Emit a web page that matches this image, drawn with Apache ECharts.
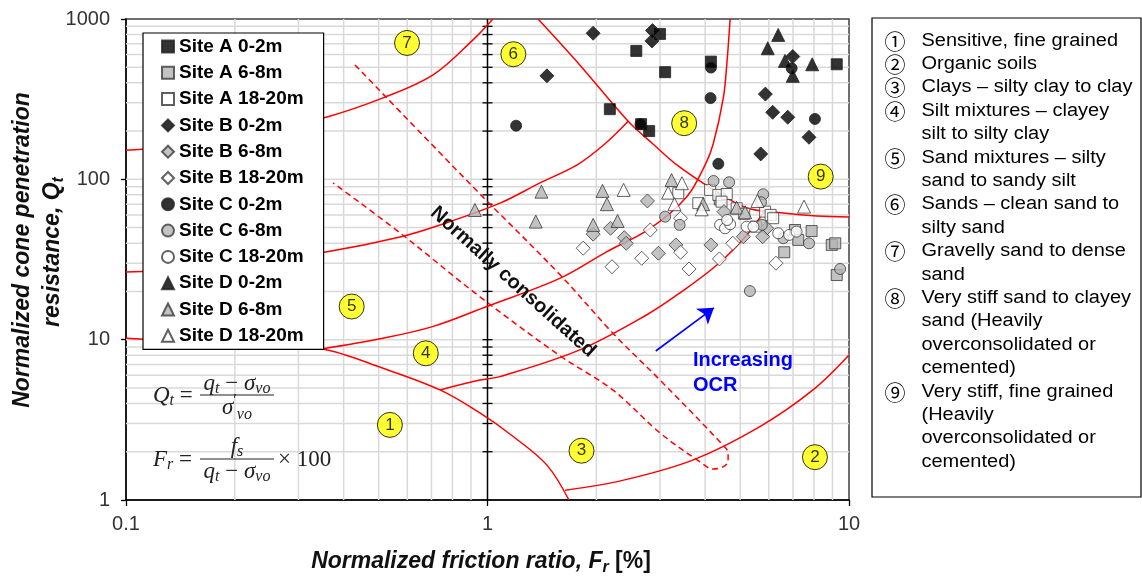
<!DOCTYPE html>
<html><head><meta charset="utf-8">
<script src="https://cdn.jsdelivr.net/npm/echarts@6/dist/echarts.min.js"></script>
<style>html,body{margin:0;padding:0;background:#fff}#c{width:1142px;height:579px}</style>
</head><body><div id="c"></div>
<script>
// ---------------- data (Fr [%], Qt) ----------------
const siteA_0_2  = [[2.58,632],[3.0,807],[3.10,466],[2.18,274],[2.66,221],[2.80,200],[4.15,542],[9.25,522]];
const siteA_6_8  = [[4.39,75],[7.09,48.3],[7.24,41.9],[7.88,47.6],[6.62,35.1],[8.96,39],[9.16,39.9],[9.25,25.3]];
const siteA_18_20= [[3.37,81.9],[3.83,71],[4.13,85.9],[4.35,80],[4.59,81],[4.44,72.6],[4.89,66],[5.13,61],[5.53,50.7],[5.86,62.9],[6.07,60],[6.17,57.2]];
const siteB_0_2  = [[1.96,815],[2.86,847],[2.85,730],[1.46,442],[6.99,583],[5.87,340],[6.15,262],[6.77,244],[7.75,183],[5.70,144]];
const siteB_6_8  = [[1.96,45.5],[2.19,49.5],[2.39,43.3],[2.42,39.9],[2.77,73.3],[2.97,34.6],[3.32,39],[4.15,39],[5.10,43.9],[4.51,62.9],[5.92,49.5],[5.77,43.9]];
const siteB_18_20= [[1.84,37.2],[2.21,28.5],[2.67,32.2],[2.82,48.3],[3.42,57.2],[3.42,35.1],[3.61,27.6],[4.38,31.9],[4.77,39.9],[6.28,30]];
const siteC_0_2  = [[1.20,216],[2.65,221],[4.15,498],[4.14,321],[8.05,238],[6.94,493],[4.35,125]];
const siteC_6_8  = [[3.10,58.5],[3.40,52],[4.22,97.7],[4.66,95.9],[5.79,80.7],[5.71,72],[5.74,52],[6.58,42.9],[7.75,39.9],[5.32,20.1],[9.45,27.6]];
const siteC_18_20= [[4.40,52],[4.54,49.5],[4.69,52.5],[4.60,55.8],[5.21,50.7],[5.44,50.7],[6.37,46.1],[6.83,45],[7.16,47.2]];
const siteD_0_2  = [[6.37,796],[5.96,657],[6.65,548],[7.91,522],[6.99,442]];
const siteD_6_8  = [[0.923,64.4],[1.41,83.8],[1.36,54.5],[2.08,84.7],[2.14,70],[2.29,55],[1.96,52],[3.23,99],[3.95,70],[4.89,66.6],[5.16,62.3]];
const siteD_18_20= [[2.38,85.9],[3.45,94.6],[3.16,82.6],[3.29,70],[3.91,65],[5.58,73.3],[7.51,67.6]];

// zone boundaries (Robertson 1990 chart)
const bound76   = [[0.1,152],[0.194,174],[0.36,245],[0.514,322],[0.707,448],[0.912,741],[1.035,1000]];
const bound65   = [[0.1,26.4],[0.194,28.8],[0.36,35.3],[0.573,43.7],[0.739,51.9],[1.083,71],[1.397,95],[1.77,123],[2.11,166],[2.45,230]];
const bound8    = [[1.38,1000],[1.80,517],[2.45,230],[2.87,166],[3.34,123],[4.31,83.5],[5.22,66.3],[6.57,61.7],[8.15,59.1],[10,58.2]];
const bound5489 = [[0.348,8.75],[0.514,10.2],[0.708,12.1],[0.995,16.1],[1.59,24.2],[2.14,35.4],[2.82,49.5],[3.56,78],[4.0,123],[4.21,166],[4.49,321],[4.59,517],[4.69,1000]];
const bound1    = [[0.1,10.2],[0.194,9.4],[0.348,8.75],[0.514,6.63],[0.739,4.86],[0.953,3.49],[1.18,2.48],[1.46,1.65],[1.68,1.0]];
const bound43   = [[0.739,4.86],[0.953,5.6],[1.083,5.88],[1.80,8.63],[2.76,14.3],[3.41,19.6],[4.31,29.2],[5.22,45],[5.86,64.4]];
const bound32   = [[1.64,1.15],[2.38,1.33],[3.71,1.78],[5.67,2.87],[7.95,4.86],[10,8.03]];
const ncBand    = [[0.430,517],[0.912,89.7],[1.59,25.3],[2.22,11.0],[3.0,5.6],[4.48,2.20],[4.63,1.96],[4.63,1.75],[4.48,1.61],[4.21,1.56],[3.87,1.73],[3.0,2.62],[2.22,4.86],[1.59,7.91],[0.953,18.5],[0.573,46.3],[0.374,95]];

// zone label circles
const zoneNames = ['7','6','8','9','5','4','1','3','2'];
const zoneFr    = [0.599,1.179,3.50,8.35,0.421,0.675,0.537,1.82,8.05];
const zoneQt    = [709,603,224,104,16.1,8.22,2.94,2.03,1.85];

// grid & tick values
const gridFr = [0.2,0.3,0.4,0.5,0.6,0.7,0.8,0.9,2,3,4,5,6,7,8,9];
const gridQt = [2,3,4,5,6,7,8,9,10,20,30,40,50,60,70,80,90,100,200,300,400,500,600,700,800,900];
const centerTicks = [2,3,4,5,6,7,8,9,10,20,30,40,50,60,70,80,90,100,200,300,400,500,600,700,800,900];
const xTicks = [0.1,1,10];
const yTicks = [1,10,100,1000];

// annotations
const arrowOCR = [[2.92,8.5],[4.23,15.8]];
const ncTextPos = [1.176,22.9];
const ocrTextPos = [3.70,6.24];

const zoneDesc = [
  ['Sensitive, fine grained'],
  ['Organic soils'],
  ['Clays \u2013 silty clay to clay'],
  ['Silt mixtures \u2013 clayey','silt to silty clay'],
  ['Sand mixtures \u2013 silty','sand to sandy silt'],
  ['Sands \u2013 clean sand to','silty sand'],
  ['Gravelly sand to dense','sand'],
  ['Very stiff sand to clayey','sand (Heavily','overconsolidated or','cemented)'],
  ['Very stiff, fine grained','(Heavily','overconsolidated or','cemented)']
];
const circled = ['\u2460','\u2461','\u2462','\u2463','\u2464','\u2465','\u2466','\u2467','\u2468'];

// ---------------- chart ----------------
const GRAY = '#b4b4b4', EDGE = '#3a3a3a';
const markerDefs = [
  ['Site A 0-2m', siteA_0_2, 'rect', '#000', 11],
  ['Site A 6-8m', siteA_6_8, 'rect', GRAY, 11],
  ['Site A 18-20m', siteA_18_20, 'rect', '#fff', 11],
  ['Site B 0-2m', siteB_0_2, 'diamond', '#000', 14],
  ['Site B 6-8m', siteB_6_8, 'diamond', GRAY, 14],
  ['Site B 18-20m', siteB_18_20, 'diamond', '#fff', 14],
  ['Site C 0-2m', siteC_0_2, 'circle', '#000', 11],
  ['Site C 6-8m', siteC_6_8, 'circle', GRAY, 11],
  ['Site C 18-20m', siteC_18_20, 'circle', '#fff', 11],
  ['Site D 0-2m', siteD_0_2, 'triangle', '#000', 13],
  ['Site D 6-8m', siteD_6_8, 'triangle', GRAY, 13],
  ['Site D 18-20m', siteD_18_20, 'triangle', '#fff', 13]
];

const chart = echarts.init(document.getElementById('c'), null, {renderer:'canvas'});

function redLine(data, dashed){
  return {type:'line', data:data, smooth:0.35, symbol:'none', silent:true, z:3, clip:true,
    lineStyle:{color:'#ff0000', width:1.5, type: dashed ? [6,4] : 'solid'}};
}

const series = [];
// grid lines
series.push({type:'custom', silent:true, z:1, data:gridFr.map(v=>[v,1]),
  renderItem:(params, api)=>{ const cs=params.coordSys; const p=api.coord([api.value(0),api.value(1)]);
    return {type:'line', shape:{x1:p[0],y1:cs.y,x2:p[0],y2:cs.y+cs.height}, style:{stroke:'#d9d9d9',lineWidth:1.5}}; }});
series.push({type:'custom', silent:true, z:1, data:gridQt.map(v=>[1,v]),
  renderItem:(params, api)=>{ const cs=params.coordSys; const p=api.coord([api.value(0),api.value(1)]);
    return {type:'line', shape:{x1:cs.x,y1:p[1],x2:cs.x+cs.width,y2:p[1]}, style:{stroke:'#d9d9d9',lineWidth:1.5}}; }});
// center vertical axis at Fr=1 with ticks
series.push({type:'custom', silent:true, z:2, data:[[1,1]],
  renderItem:(params, api)=>{ const cs=params.coordSys; const p=api.coord([api.value(0),api.value(1)]);
    return {type:'line', shape:{x1:p[0],y1:cs.y,x2:p[0],y2:cs.y+cs.height}, style:{stroke:'#000',lineWidth:1.5}}; }});
series.push({type:'custom', silent:true, z:2, data:centerTicks.map(v=>[1,v]),
  renderItem:(params, api)=>{ const p=api.coord([api.value(0),api.value(1)]);
    return {type:'line', shape:{x1:p[0]-5,y1:p[1],x2:p[0]+5,y2:p[1]}, style:{stroke:'#000',lineWidth:1.3}}; }});

[bound76,bound65,bound8,bound5489,bound1,bound43,bound32].forEach(b=>series.push(redLine(b,false)));
series.push(redLine(ncBand,true));

markerDefs.forEach(([name,data,sym,fill,size])=>{
  series.push({type:'scatter', name:name, data:data, symbol:sym, symbolSize:size, z:5,
    itemStyle:{color:fill, borderColor: fill==='#000' ? '#222' : EDGE, borderWidth:1}});
});

// zone circles
series.push({type:'scatter', silent:true, z:6, symbol:'circle', symbolSize:25,
  data: zoneNames.map((n,i)=>({value:[zoneFr[i],zoneQt[i]], name:n})),
  itemStyle:{color:'#ffff00', borderColor:'#000', borderWidth:1},
  label:{show:true, position:'inside', formatter:p=>p.name, color:'#000', fontSize:17, fontFamily:'Liberation Sans'}});

// OCR arrow
series.push({type:'lines', coordinateSystem:'cartesian2d', silent:true, z:6,
  symbol:['none','arrow'], symbolSize:15,
  data:[{coords:arrowOCR}], lineStyle:{color:'#0000ff', width:1.6, opacity:1}});

const option = {
  animation:false,
  backgroundColor:'#fff',
  grid:{left:126, right:293, top:19, bottom:79, show:true, borderColor:'#404040', borderWidth:1.5},
  xAxis:{type:'log', logBase:10, min:0.1, max:10,
    axisLine:{show:true, lineStyle:{color:'#000', width:1.5}},
    axisTick:{show:true, length:6, lineStyle:{color:'#000', width:1.3}},
    axisLabel:{fontSize:20, color:'#333', margin:14, fontFamily:'Liberation Sans',
      formatter:v=> xTicks.find(t=>Math.abs(t-v)/t<1e-6) < 1 ? '0.1' : String(Math.round(v))},
    splitLine:{show:false}},
  yAxis:{type:'log', logBase:10, min:1, max:1000,
    axisLine:{show:true, lineStyle:{color:'#000', width:1.5}},
    axisTick:{show:true, length:5, lineStyle:{color:'#000', width:1.3}},
    axisLabel:{fontSize:20, color:'#333', margin:16, fontFamily:'Liberation Sans',
      formatter:v=> String(yTicks.find(t=>Math.abs(t-v)/t<1e-6) || Math.round(v))},
    splitLine:{show:false}},
  legend:{orient:'vertical', left:143, top:33, padding:[4,20,4,18], itemGap:7.3,
    itemWidth:12, itemHeight:12, selectedMode:false,
    backgroundColor:'#fff', borderColor:'#000', borderWidth:1.2,
    textStyle:{fontSize:19, fontWeight:'bold', fontFamily:'Liberation Sans', color:'#000', lineHeight:19},
    data: markerDefs.map(m=>m[0])},
  series: series
};
chart.setOption(option);

// ---------------- graphic annotations ----------------
const toPx = p => chart.convertToPixel({gridIndex:0}, p);
const ncP = toPx(ncTextPos), ocrP = toPx(ocrTextPos);
const serif = 'Liberation Serif';
const fRich = {
  i:{fontFamily:serif, fontStyle:'italic', fontSize:23, lineHeight:26, fill:'#222'},
  n:{fontFamily:serif, fontSize:23, lineHeight:26, fill:'#222'},
  s:{fontFamily:serif, fontStyle:'italic', fontSize:16, lineHeight:11, verticalAlign:'bottom', fill:'#222'},
  p:{fontFamily:serif, fontSize:16, lineHeight:30, verticalAlign:'top', fill:'#222'}
};
function ftext(x,y,text,align){
  return {type:'text', x:x, y:y, z:50, silent:true,
    style:{text:text, rich:fRich, align:align, textAlign:align, verticalAlign:'middle', textVerticalAlign:'middle', fill:'#222'}};
}
const g = [];
// Qt formula
g.push(ftext(153,396,'{i|Q}{s|t}{n| =}','left'));
g.push(ftext(237,384,'{i|q}{s|t}{n| \u2212 }{i|\u03c3}{s|vo}','center'));
g.push({type:'line', z:50, silent:true, shape:{x1:200,y1:395,x2:274,y2:395}, style:{stroke:'#222', lineWidth:1.2}});
g.push(ftext(237,408,'{i|\u03c3}{p|\u2032}{s|vo}','center'));
// Fr formula
g.push(ftext(153,460,'{i|F}{s|r}{n| =}','left'));
g.push(ftext(237,447,'{i|f}{s|s}','center'));
g.push({type:'line', z:50, silent:true, shape:{x1:200,y1:459,x2:274,y2:459}, style:{stroke:'#222', lineWidth:1.2}});
g.push(ftext(237,472,'{i|q}{s|t}{n| \u2212 }{i|\u03c3}{s|vo}','center'));
g.push(ftext(278,460,'{n|\u00d7 100}','left'));

// Normally consolidated
g.push({type:'text', x:ncP[0], y:ncP[1], rotation:-42*Math.PI/180, z:40, silent:true,
  style:{text:'Normally consolidated', fontSize:20, fontWeight:'bold', fontFamily:'Liberation Sans', fill:'#111',
    align:'center', textAlign:'center', verticalAlign:'middle', textVerticalAlign:'middle'}});
// Increasing OCR
g.push({type:'text', x:ocrP[0], y:ocrP[1], z:40, silent:true,
  style:{text:'Increasing\nOCR', fontSize:20, fontWeight:'bold', fontFamily:'Liberation Sans', fill:'#0000ff', lineHeight:25,
    align:'left', textAlign:'left', verticalAlign:'middle', textVerticalAlign:'middle'}});

// axis titles
const tRich = {
  b:{fontFamily:'Liberation Sans', fontWeight:'bold', fontStyle:'italic', fontSize:23, lineHeight:27, fill:'#111'},
  u:{fontFamily:'Liberation Sans', fontWeight:'bold', fontSize:23, lineHeight:27, fill:'#111'},
  s:{fontFamily:'Liberation Sans', fontWeight:'bold', fontStyle:'italic', fontSize:16, lineHeight:11, verticalAlign:'bottom', fill:'#111'}
};
g.push({type:'text', x:481, y:562, z:40, silent:true,
  style:{text:'{b|Normalized friction ratio, F}{s|r}{u| [%]}', rich:tRich, align:'center', textAlign:'center', verticalAlign:'middle', textVerticalAlign:'middle'}});
g.push({type:'text', x:23, y:250, rotation:Math.PI/2, z:40, silent:true,
  style:{text:'{b|Normalized cone penetration}', rich:tRich, align:'center', textAlign:'center', verticalAlign:'middle', textVerticalAlign:'middle'}});
g.push({type:'text', x:53, y:252, rotation:Math.PI/2, z:40, silent:true,
  style:{text:'{b|resistance, Q}{s|t}', rich:tRich, align:'center', textAlign:'center', verticalAlign:'middle', textVerticalAlign:'middle'}});

// right legend box
g.push({type:'rect', z:30, silent:true, shape:{x:872, y:18, width:269, height:479},
  style:{fill:'#fff', stroke:'#000', lineWidth:1.2}});
let line = 0;
zoneDesc.forEach((lines, k)=>{
  const y0 = 40.7 + line*23.4;
  g.push({type:'text', x:895, y:y0, z:31, silent:true,
    style:{text:circled[k], fontSize:21, fontFamily:'Noto Sans CJK KR', fill:'#000',
      align:'center', textAlign:'center', verticalAlign:'middle', textVerticalAlign:'middle'}});
  lines.forEach(t=>{
    const y = 40.7 + line*23.4;
    g.push({type:'text', x:921.5, y:y, scaleX:1.11, z:31, silent:true,
      style:{text:t, fontSize:18, fontFamily:'Liberation Sans', fill:'#000',
        align:'left', textAlign:'left', verticalAlign:'middle', textVerticalAlign:'middle'}});
    line++;
  });
});
chart.setOption({graphic:g});
</script>
</body></html>
